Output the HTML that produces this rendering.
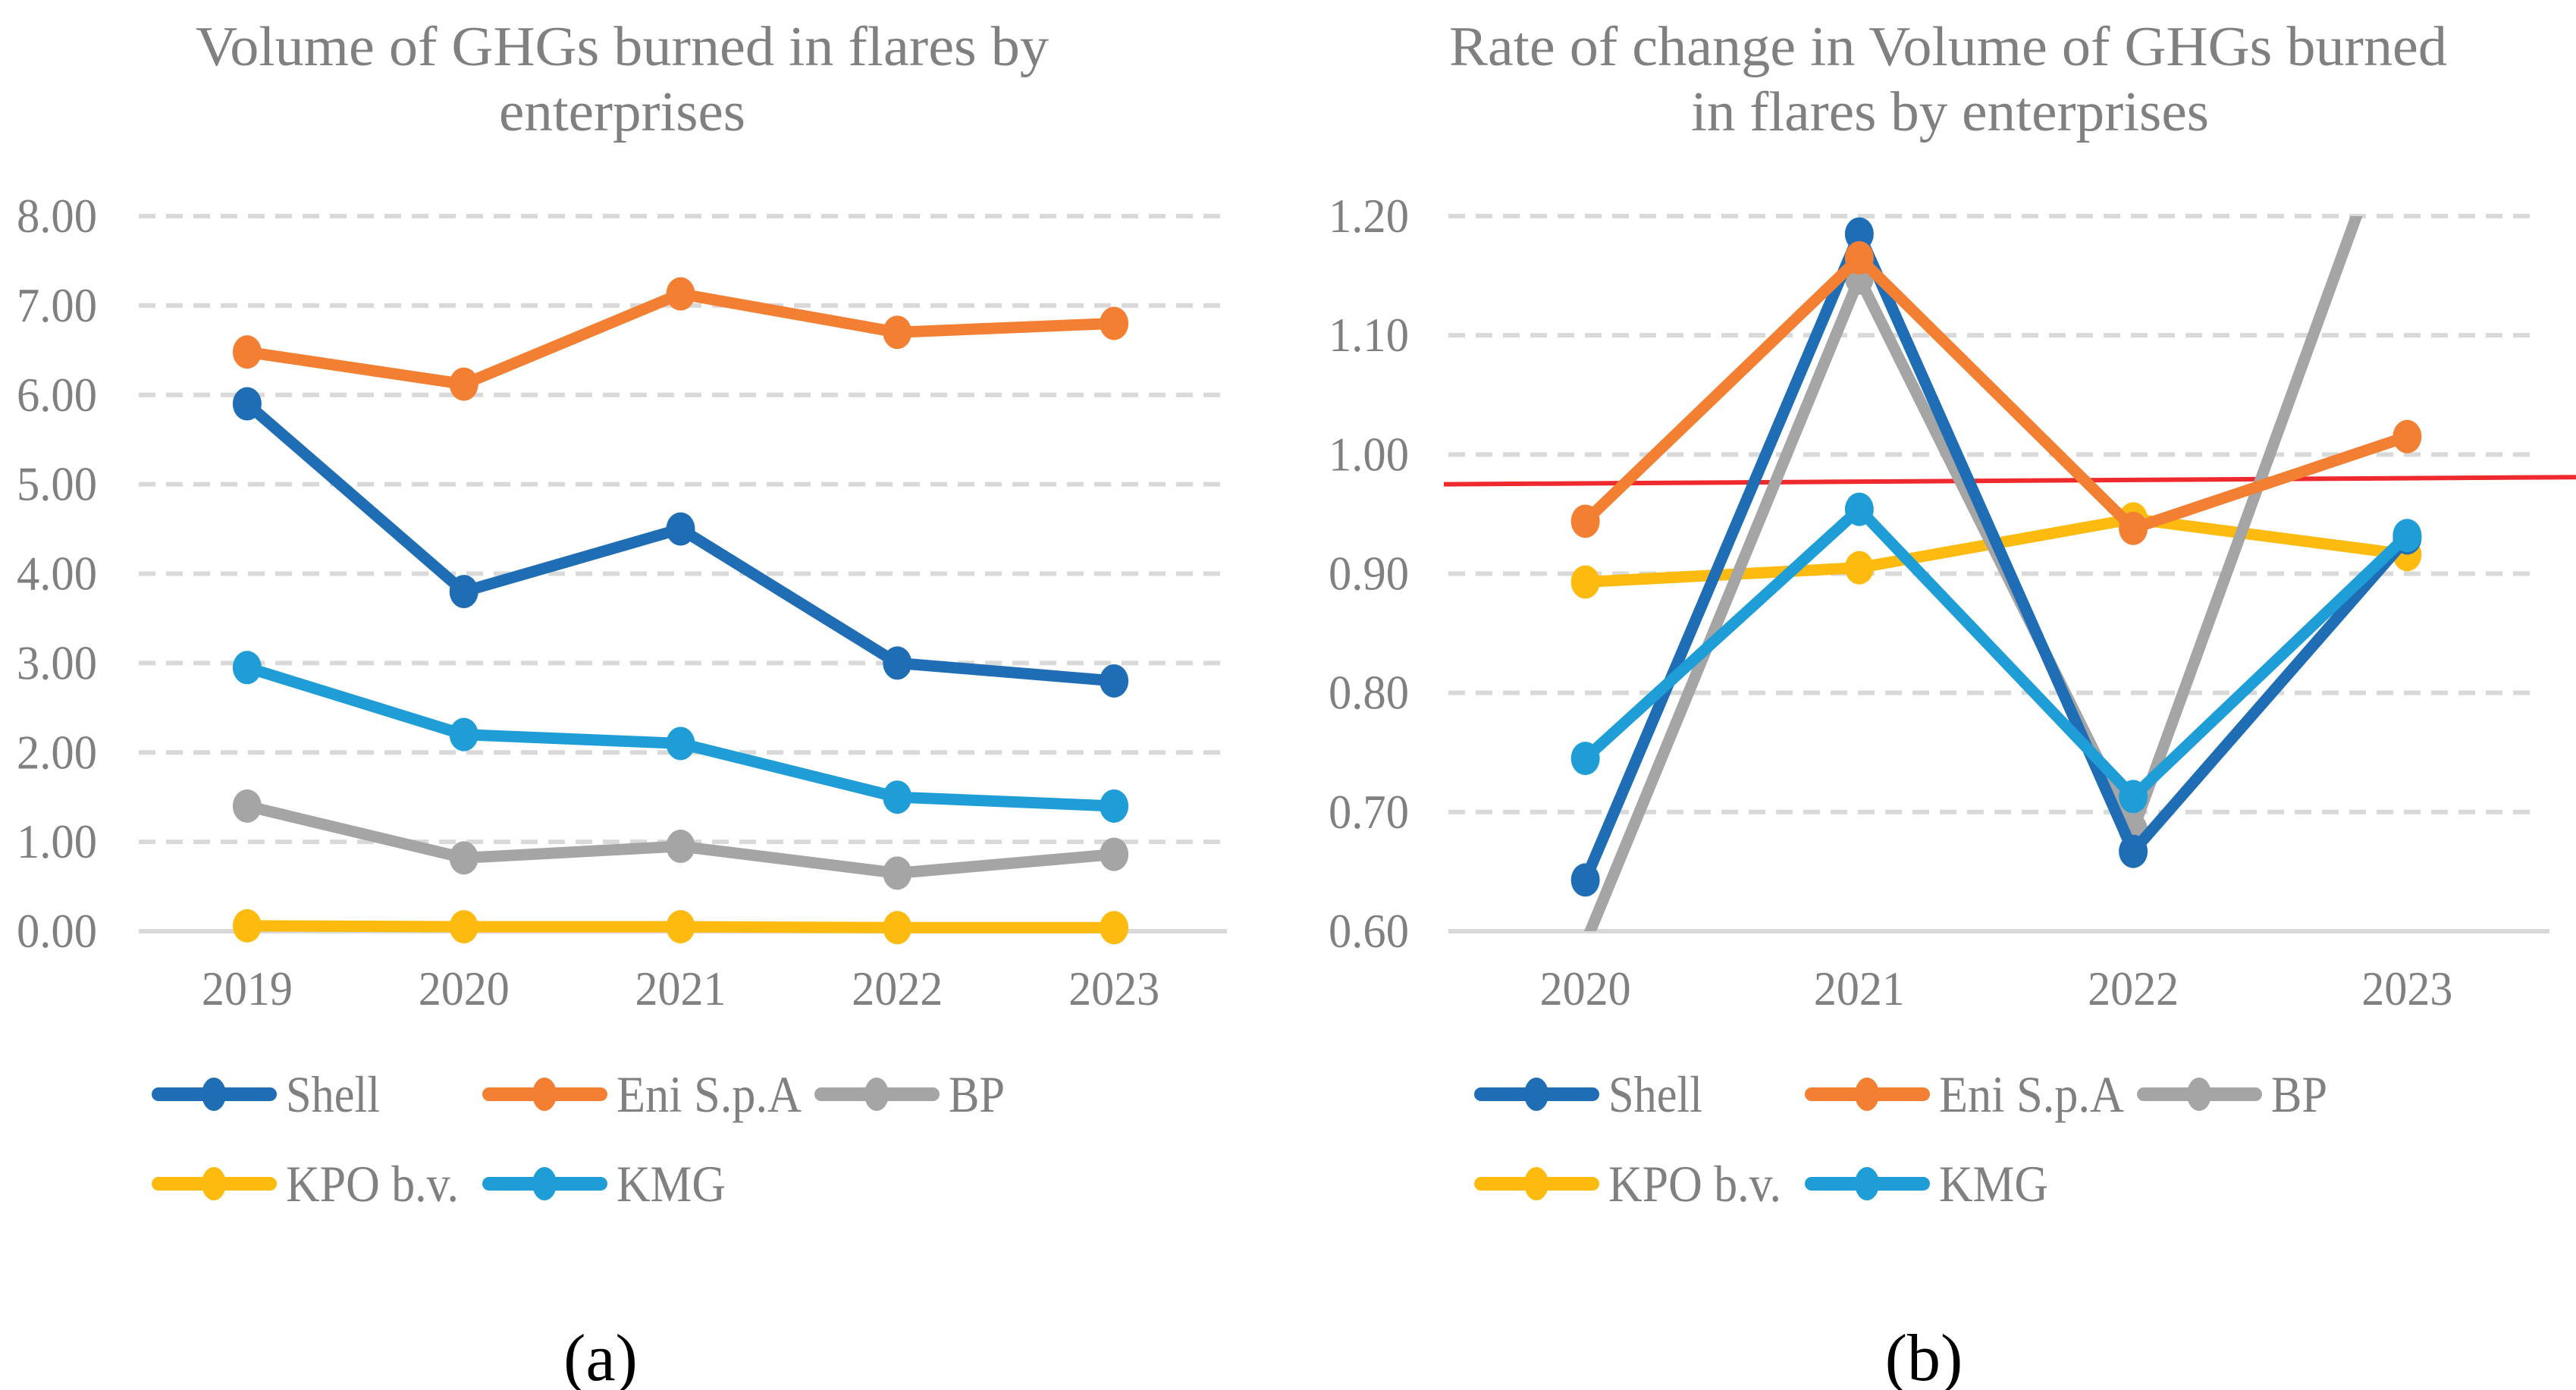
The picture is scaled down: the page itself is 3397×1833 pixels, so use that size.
<!DOCTYPE html>
<html><head><meta charset="utf-8"><style>
html,body{margin:0;padding:0;background:#fff;}
svg{display:block;}
svg text{font-family:"Liberation Serif",serif;}
</style></head><body>
<svg id="svg" width="3397" height="1833" viewBox="0 0 3397 1833" xmlns="http://www.w3.org/2000/svg" font-family="Liberation Serif, serif">
<defs><clipPath id="clipB"><rect x="1880" y="285" width="1517" height="943"/></clipPath></defs>
<g id="chartA">
<text x="258" y="86" font-size="74" fill="#808080" textLength="1125" lengthAdjust="spacingAndGlyphs">Volume of GHGs burned in flares by</text>
<text x="658" y="172" font-size="74" fill="#808080" textLength="325" lengthAdjust="spacingAndGlyphs">enterprises</text>
</g>
<g id="chartB">
<text x="1911" y="86" font-size="74" fill="#808080" textLength="1316" lengthAdjust="spacingAndGlyphs">Rate of change in Volume of GHGs burned</text>
<text x="2230" y="172" font-size="74" fill="#808080" textLength="683" lengthAdjust="spacingAndGlyphs">in flares by enterprises</text>
</g>
<text x="792" y="1820" font-size="88" fill="#000" text-anchor="middle">(a)</text>
<text x="2537" y="1820" font-size="88" fill="#000" text-anchor="middle">(b)</text>
</svg>
<script>
const NS="http://www.w3.org/2000/svg";
const seriesNames=["Shell","Eni S.p.A","BP","KPO b.v.","KMG"];
const seriesColors=["#1f6eb5","#f37f32","#a5a5a5","#fdbb10","#1f9dd6"];
const drawOrder=[4,3,2,0,1];
const drawOrderB=[3,2,0,1,4];
const yearsA=["2019","2020","2021","2022","2023"];
const shellA=[5.9,3.8,4.5,3.0,2.8];
const eniA=[6.48,6.12,7.13,6.7,6.8];
const bpA=[1.4,0.82,0.95,0.65,0.86];
const kpoA=[0.06,0.05,0.05,0.04,0.04];
const kmgA=[2.95,2.2,2.1,1.5,1.4];
const ticksA=["0.00","1.00","2.00","3.00","4.00","5.00","6.00","7.00","8.00"];
const yearsB=["2020","2021","2022","2023"];
const shellB=[0.643,1.185,0.667,0.93];
const eniB=[0.944,1.165,0.938,1.015];
const bpB=[0.59,1.148,0.685,1.317];
const kpoB=[0.893,0.905,0.946,0.916];
const kmgB=[0.745,0.954,0.713,0.932];
const ticksB=["0.60","0.70","0.80","0.90","1.00","1.10","1.20"];
const refLineB=[0.975,0.981];

function mk(tag,attrs,parent){const e=document.createElementNS(NS,tag);for(const k in attrs)e.setAttribute(k,attrs[k]);parent.appendChild(e);return e;}
const FF='Liberation Serif, serif';

function drawChart(g,cfg){
  const {x0,x1,yTop,yBot,min,max,cats,data,ticks,labelX,clip,order,prefix}=cfg;
  const bw=(x1-x0)/cats.length;
  const xs=i=>x0+bw*(i+0.5);
  const ys=v=>yBot-(v-min)/(max-min)*(yBot-yTop);
  ticks.forEach((t,i)=>{
    const v=parseFloat(t);const y=ys(v);
    if(i>0){const l=mk('line',{x1:x0,x2:cfg.gridEnd,y1:y,y2:y,stroke:'#d9d9d9','stroke-width':6,'stroke-dasharray':'22 14'},g);
      
      }
    const tx=mk('text',{x:labelX,y:y+21,'font-size':64,'font-family':FF,fill:'#808080','text-anchor':'end',textLength:106,lengthAdjust:'spacingAndGlyphs'},g);tx.textContent=t;
    
    
  });
  const ax=mk('line',{x1:x0,x2:cfg.axisEnd,y1:yBot,y2:yBot,stroke:'#d9d9d9','stroke-width':6},g);
  
  
  cats.forEach((c,i)=>{const tx=mk('text',{x:xs(i),y:1325,'font-size':64,'font-family':FF,fill:'#808080','text-anchor':'middle',textLength:120,lengthAdjust:'spacingAndGlyphs'},g);tx.textContent=c;
    
    });
  if(cfg.ref){const r=mk('line',{x1:1904,x2:3397,y1:ys(cfg.ref[0]),y2:ys(cfg.ref[1]),stroke:'#ee2a2f','stroke-width':6},g);
    
    }
  order.forEach(si=>{
    const vals=data[si];const col=seriesColors[si];
    const sg=mk('g',clip?{'clip-path':'url(#clipB)'}:{},g);
    
    
    const pts=vals.map((v,i)=>xs(i)+','+ys(v)).join(' ');
    const pl=mk('polyline',{points:pts,fill:'none',stroke:col,'stroke-width':15,'stroke-linejoin':'round','stroke-linecap':'round'},sg);
    
    
    vals.forEach((v,i)=>{
      if(v>max||v<min)return;
      const m=mk('ellipse',{cx:xs(i),cy:ys(v),rx:19,ry:22,fill:col},sg);
      
      
    });
  });
}
function drawLegend(g,ox,prefix){
  const pos=[[0,1443],[436,1443],[874,1443],[0,1561],[436,1561]];
  const widths=[124,244,74,228,144];
  [0,1,2,3,4].forEach(si=>{
    const [dx,y]=pos[si];const x=ox+dx;
    const lg=mk('g',{},g);
    
    
    mk('line',{x1:x+10,x2:x+157,y1:y,y2:y,stroke:seriesColors[si],'stroke-width':18,'stroke-linecap':'round'},lg);
    mk('ellipse',{cx:x+83,cy:y,rx:16,ry:22,fill:seriesColors[si]},lg);
    const t=mk('text',{x:x+178,y:y+23,'font-size':68,'font-family':FF,fill:'#808080',textLength:widths[si],lengthAdjust:'spacingAndGlyphs'},lg);t.textContent=seriesNames[si];
  });
}
const gA=document.getElementById('chartA');
drawChart(gA,{x0:183,x1:1612,gridEnd:1618,axisEnd:1618,yTop:285,yBot:1228,min:0,max:8,cats:yearsA,data:[shellA,eniA,bpA,kpoA,kmgA],ticks:ticksA,labelX:128,order:drawOrder,prefix:'a-'});
drawLegend(gA,199,'a-');
const gB=document.getElementById('chartB');
drawChart(gB,{x0:1910,x1:3355,gridEnd:3345,axisEnd:3362,yTop:285,yBot:1228,min:0.6,max:1.2,cats:yearsB,data:[shellB,eniB,bpB,kpoB,kmgB],ticks:ticksB,labelX:1858,clip:true,ref:refLineB,order:drawOrderB,prefix:'b-'});
drawLegend(gB,1943,'b-');
</script>
</body></html>
